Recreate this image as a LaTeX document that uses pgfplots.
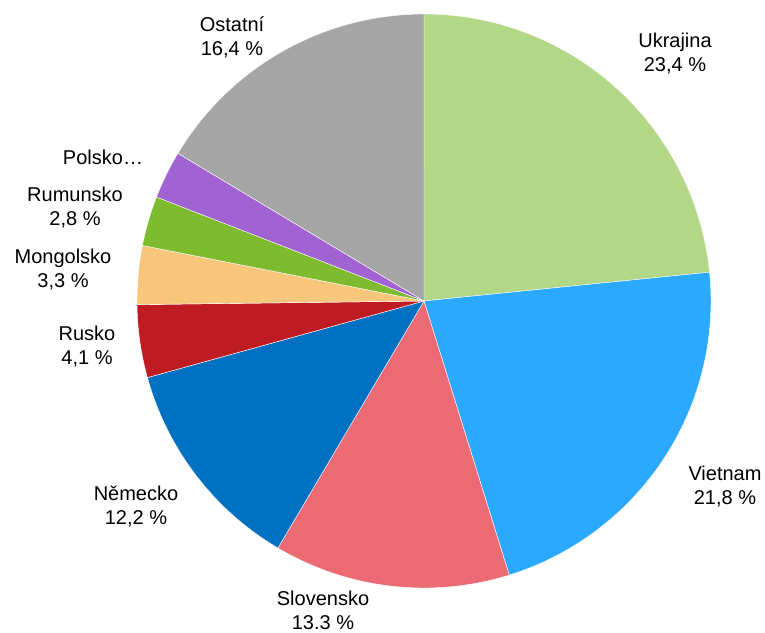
\documentclass[border=0pt]{standalone}
\usepackage{pgfplots}
\pgfplotsset{compat=1.18}
\usepackage{fontspec}
\setmainfont{Liberation Sans}
\definecolor{cUkr}{HTML}{B2D786}
\definecolor{cVie}{HTML}{2AA9FF}
\definecolor{cSlo}{HTML}{EB6A73}
\definecolor{cNem}{HTML}{0070C0}
\definecolor{cRus}{HTML}{BE1B23}
\definecolor{cMon}{HTML}{F9C77C}
\definecolor{cRum}{HTML}{7EBB2E}
\definecolor{cPol}{HTML}{A063D1}
\definecolor{cOst}{HTML}{A6A6A6}
\begin{document}
\begin{tikzpicture}
\begin{axis}[width=765pt,height=632pt,scale only axis,hide axis,
  xmin=-424,xmax=341,ymin=-331,ymax=301,clip=false,
  every axis plot/.append style={draw=white,line width=0.4pt,samples=60,no markers}]
% cumulative percentages: Ukrajina 23.4, Vietnam 21.8, Slovensko 13.3, Nemecko 12.2,
% Rusko 4.1, Mongolsko 3.3, Rumunsko 2.8, Polsko 2.7, Ostatni 16.4
\addplot[fill=cUkr,domain=0:23.4] ({287*cos(90-3.6*x)},{287*sin(90-3.6*x)}) -- (axis cs:0,0) -- cycle;
\addplot[fill=cVie,domain=23.4:45.2] ({287*cos(90-3.6*x)},{287*sin(90-3.6*x)}) -- (axis cs:0,0) -- cycle;
\addplot[fill=cSlo,domain=45.2:58.5] ({287*cos(90-3.6*x)},{287*sin(90-3.6*x)}) -- (axis cs:0,0) -- cycle;
\addplot[fill=cNem,domain=58.5:70.7] ({287*cos(90-3.6*x)},{287*sin(90-3.6*x)}) -- (axis cs:0,0) -- cycle;
\addplot[fill=cRus,domain=70.7:74.8] ({287*cos(90-3.6*x)},{287*sin(90-3.6*x)}) -- (axis cs:0,0) -- cycle;
\addplot[fill=cMon,domain=74.8:78.1] ({287*cos(90-3.6*x)},{287*sin(90-3.6*x)}) -- (axis cs:0,0) -- cycle;
\addplot[fill=cRum,domain=78.1:80.9] ({287*cos(90-3.6*x)},{287*sin(90-3.6*x)}) -- (axis cs:0,0) -- cycle;
\addplot[fill=cPol,domain=80.9:83.6] ({287*cos(90-3.6*x)},{287*sin(90-3.6*x)}) -- (axis cs:0,0) -- cycle;
\addplot[fill=cOst,domain=83.6:100] ({287*cos(90-3.6*x)},{287*sin(90-3.6*x)}) -- (axis cs:0,0) -- cycle;
\tikzset{lab/.style={align=center,font=\fontsize{20}{24}\selectfont,inner sep=0pt}}
\node[lab] at (axis cs:251,247) {Ukrajina\\23,4 \%};
\node[lab] at (axis cs:301,-186) {Vietnam\\21,8 \%};
\node[lab] at (axis cs:-101,-309) {Slovensko\\13.3 \%};
\node[lab] at (axis cs:-288,-205) {Německo\\12,2 \%};
\node[lab] at (axis cs:-337,-46) {Rusko\\4,1 \%};
\node[lab] at (axis cs:-361,31) {Mongolsko\\3,3 \%};
\node[lab] at (axis cs:-349,93) {Rumunsko\\2,8 \%};
\node[lab] at (axis cs:-321,144) {Polsko…};
\node[lab] at (axis cs:-192,264) {Ostatní\\16,4 \%};
\end{axis}
\pgfresetboundingbox
\path (current axis.south west) rectangle (current axis.north east);
\end{tikzpicture}
\end{document}
